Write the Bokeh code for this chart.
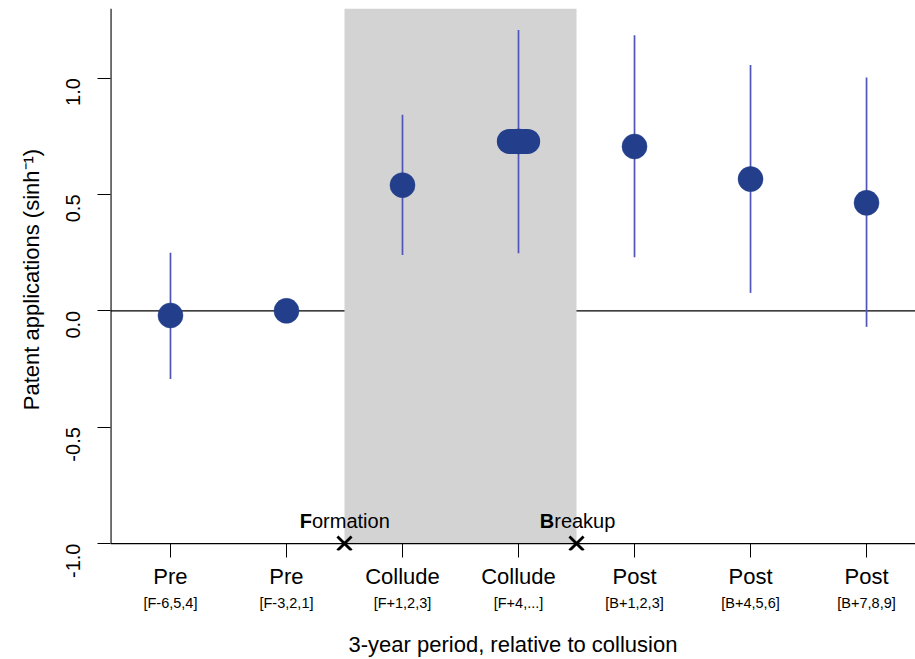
import math
from bokeh.plotting import figure
from bokeh.models import (Range1d, LinearAxis, FixedTicker, BoxAnnotation, Span,
                          Label, ColumnDataSource)
from bokeh.embed import file_html
from bokeh.resources import INLINE

# ---------------- data ----------------
periods = [1, 2, 3, 4, 5, 6, 7]
phase_labels = ["Pre", "Pre", "Collude", "Collude", "Post", "Post", "Post"]
window_labels = ["[F-6,5,4]", "[F-3,2,1]", "[F+1,2,3]", "[F+4,...]",
                 "[B+1,2,3]", "[B+4,5,6]", "[B+7,8,9]"]
estimate = [-0.02, 0.0, 0.54, 0.728, 0.706, 0.566, 0.464]
ci_low = [-0.293, None, 0.24, 0.247, 0.23, 0.077, -0.069]
ci_high = [0.25, None, 0.842, 1.207, 1.184, 1.056, 1.003]
formation_x = 2.5
breakup_x = 4.5
y_ticks = [-1.0, -0.5, 0.0, 0.5, 1.0]
y_tick_labels = ["-1.0", "-0.5", "0.0", "0.5", "1.0"]

FONT = "Liberation Sans"
DOT = "#233f8b"
CI = "#5055b9"

X_LO, X_HI = 0.483, 7.422
Y_BASE = y_ticks[0]          # where the x axis line is drawn
Y_PAD = 7 / 234.0            # small room below the axis line for the event markers
Y_HI = 1.299

p = figure(width=915, height=659, output_backend="svg", toolbar_location=None,
           x_range=Range1d(X_LO, X_HI), y_range=Range1d(Y_BASE - Y_PAD, Y_HI),
           x_axis_location=None, y_axis_location="left",
           min_border_left=110, min_border_right=0, min_border_top=8,
           min_border_bottom=106)
p.outline_line_color = None
p.grid.visible = False
p.background_fill_color = "white"
p.border_fill_color = "white"

# y axis
ya = p.yaxis[0]
ya.ticker = FixedTicker(ticks=y_ticks)
ya.major_label_overrides = {t: s for t, s in zip(y_ticks, y_tick_labels)}
ya.major_label_orientation = math.pi / 2
ya.major_label_text_font = FONT
ya.major_label_text_font_size = "20px"
ya.major_label_text_color = "black"
ya.major_label_standoff = 24
ya.major_tick_in = 0
ya.major_tick_out = 13
ya.minor_tick_line_color = None
ya.axis_line_color = None
ya.major_tick_line_color = "black"
ya.axis_label = "Patent applications (sinh\u207b\u00b9)"
ya.axis_label_text_font = FONT
ya.axis_label_text_font_size = "22px"
ya.axis_label_text_font_style = "normal"
ya.axis_label_text_color = "black"
ya.axis_label_standoff = 13

# bottom axes
ax1 = LinearAxis(ticker=FixedTicker(ticks=periods),
                 major_label_overrides={x: s for x, s in zip(periods, phase_labels)})
ax1.major_label_text_font = FONT
ax1.major_label_text_font_size = "22px"
ax1.major_label_text_color = "black"
ax1.major_label_standoff = 6
ax1.major_tick_in = 7
ax1.major_tick_out = 7
ax1.minor_tick_line_color = None
ax1.axis_line_color = None
ax1.major_tick_line_color = "black"

ax2 = LinearAxis(ticker=FixedTicker(ticks=periods),
                 major_label_overrides={x: s for x, s in zip(periods, window_labels)})
ax2.major_label_text_font = FONT
ax2.major_label_text_font_size = "14.5px"
ax2.major_label_text_color = "black"
ax2.major_label_standoff = 3
ax2.major_tick_in = 0
ax2.major_tick_out = 0
ax2.major_tick_line_color = None
ax2.minor_tick_line_color = None
ax2.axis_line_color = None
ax2.axis_label = "3-year period, relative to collusion"
ax2.axis_label_text_font = FONT
ax2.axis_label_text_font_size = "22px"
ax2.axis_label_text_font_style = "normal"
ax2.axis_label_text_color = "black"
ax2.axis_label_standoff = 18

p.add_layout(ax1, "below")
p.add_layout(ax2, "below")

# zero line, then collusion band over it, then the x axis line
p.add_layout(Span(location=0, dimension="width", line_color="black",
                  line_width=1.2, level="underlay"))
p.add_layout(BoxAnnotation(left=formation_x, right=breakup_x, bottom=Y_BASE,
                           fill_color="#d3d3d3", fill_alpha=1.0, line_color=None,
                           level="underlay"))
p.add_layout(Span(location=Y_BASE, dimension="width", line_color="black",
                  line_width=1.2, level="underlay"))
# y axis line, stopping at the x axis line
p.segment(x0=[X_LO], y0=[Y_BASE], x1=[X_LO], y1=[Y_HI], line_color="black",
          line_width=2.2)

# confidence intervals
ci_x = [x for x, lo in zip(periods, ci_low) if lo is not None]
ci_lo = [lo for lo in ci_low if lo is not None]
ci_hi = [hi for lo, hi in zip(ci_low, ci_high) if lo is not None]
p.segment(x0=ci_x, y0=ci_lo, x1=ci_x, y1=ci_hi, line_color=CI, line_width=1.7)

# point estimates
src = ColumnDataSource(dict(x=periods, y=estimate))
p.scatter("x", "y", source=src, size=25, fill_color=DOT, line_color=DOT,
          line_width=0.5, marker="circle")
# overlapping estimates in the [F+4,...] window drawn as an elongated mark
i4 = 3
half = 0.079
p.segment(x0=[periods[i4] - half], y0=[estimate[i4]], x1=[periods[i4] + half],
          y1=[estimate[i4]], line_color=DOT, line_width=25, line_cap="round")

# event markers
p.scatter(x=[formation_x, breakup_x], y=[Y_BASE, Y_BASE], marker="x", size=20,
          line_color="black", line_width=2.8)

def two_part(x, first, rest, x_start, first_w):
    p.add_layout(Label(x=x, y=Y_BASE, x_offset=x_start, y_offset=23, text=first,
                       text_font=FONT, text_font_style="bold", text_font_size="20px",
                       text_align="left", text_baseline="alphabetic", text_color="black"))
    p.add_layout(Label(x=x, y=Y_BASE, x_offset=x_start + first_w, y_offset=23,
                       text=rest, text_font=FONT, text_font_size="20px",
                       text_align="left", text_baseline="alphabetic", text_color="black"))

two_part(formation_x, "F", "ormation", -44.7, 12.2)
two_part(breakup_x, "B", "reakup", -36.7, 14.4)

open("out.html", "w").write(file_html(p, INLINE))
